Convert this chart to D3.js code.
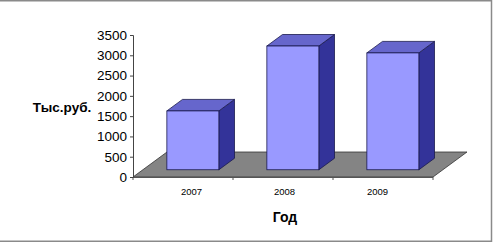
<!DOCTYPE html>
<html>
<head>
<meta charset="utf-8">
<script src="https://cdn.jsdelivr.net/npm/d3@7"></script>
<style>
  body { margin: 0; background: #fff; }
  svg { display: block; font-family: Arial, "Liberation Sans", sans-serif; }
</style>
</head>
<body>
<svg width="494" height="243"></svg>
<script>
const years = ['2007', '2008', '2009'];
const values = [1450, 3050, 2880];
const yTicks = [0, 500, 1000, 1500, 2000, 2500, 3000, 3500];

const svg = d3.select('svg');

// рамка
svg.append('rect')
    .attr('x', -2).attr('y', 0.75)
    .attr('width', 493.5).attr('height', 240.5)
    .attr('fill', 'none')
    .attr('stroke', '#8a8a8a')
    .attr('stroke-width', 1.5);

const y = d3.scaleLinear().domain([0, 3500]).range([177, 35]);
const x = d3.scaleBand().domain(years).range([133, 433])
    .paddingInner(0.48).paddingOuter(0.24);

// глубина пола и столбиков
const floorDepth = {dx: 34, dy: -25};
const f0 = 0.29, f1 = 0.75;
const off = f => [floorDepth.dx * f, floorDepth.dy * f];

// пол
const x0 = 133, x1 = 433, yb = y(0);
svg.append('polygon')
    .attr('points', [[x0, yb], [x1, yb], [x1 + floorDepth.dx, yb + floorDepth.dy], [x0 + floorDepth.dx, yb + floorDepth.dy]].join(' '))
    .attr('fill', '#848484')
    .attr('stroke', '#333')
    .attr('stroke-width', 0.8);

// деления на переднем краю пола
svg.append('g').selectAll('line')
    .data([x0, x0 + 100, x0 + 200, x1]).enter()
    .append('line')
    .attr('x1', d => d).attr('x2', d => d)
    .attr('y1', yb).attr('y2', yb + 3)
    .attr('stroke', '#555');
svg.append('line')
    .attr('x1', x0).attr('x2', x1)
    .attr('y1', yb + 0.5).attr('y2', yb + 0.5)
    .attr('stroke', '#555');

// столбики
const bars = svg.append('g').selectAll('g')
    .data(years.map((d, i) => ({year: d, value: values[i]}))).enter()
    .append('g');

bars.each(function(d) {
    const g = d3.select(this);
    const [ox0, oy0] = off(f0), [ox1, oy1] = off(f1);
    const l = x(d.year) + ox0, r = l + x.bandwidth();
    const top = y(d.value) + oy0, bot = yb + oy0;
    const ddx = ox1 - ox0, ddy = oy1 - oy0;
    // правая грань
    g.append('polygon')
        .attr('points', [[r, top], [r + ddx, top + ddy], [r + ddx, bot + ddy], [r, bot]].join(' '))
        .attr('fill', '#333399').attr('stroke', '#1a1a4d').attr('stroke-width', 0.8);
    // верх
    g.append('polygon')
        .attr('points', [[l, top], [l + ddx, top + ddy], [r + ddx, top + ddy], [r, top]].join(' '))
        .attr('fill', '#6666cc').attr('stroke', '#1a1a4d').attr('stroke-width', 0.8);
    // перед
    g.append('rect')
        .attr('x', l).attr('y', top)
        .attr('width', r - l).attr('height', bot - top)
        .attr('fill', '#9999ff').attr('stroke', '#1a1a4d').attr('stroke-width', 0.8);
});

// ось Y
const yAxis = d3.axisLeft(y).tickValues(yTicks).tickFormat(d3.format('d')).tickSize(3).tickPadding(3);
svg.append('g')
    .attr('transform', 'translate(133,0)')
    .call(yAxis)
    .call(g => g.select('.domain').attr('stroke', '#444'))
    .call(g => g.selectAll('.tick line').attr('stroke', '#444'))
    .call(g => g.selectAll('.tick text')
        .attr('font-size', 13.5)
        .attr('font-family', 'Arial, "Liberation Sans", sans-serif')
        .attr('fill', '#000'));

// подписи категорий
const labelX = d3.scalePoint().domain(years).range([191.5, 377.5]);
svg.append('g').selectAll('text')
    .data(years).enter()
    .append('text')
    .attr('x', d => labelX(d))
    .attr('y', 195)
    .attr('text-anchor', 'middle')
    .attr('font-size', 9.5)
    .text(d => d);

// названия осей
svg.append('text')
    .attr('x', 62).attr('y', 112)
    .attr('text-anchor', 'middle')
    .attr('font-size', 13.5)
    .attr('font-weight', 'bold')
    .text('Тыс.руб.');

svg.append('text')
    .attr('x', 285).attr('y', 222)
    .attr('text-anchor', 'middle')
    .attr('font-size', 14)
    .attr('font-weight', 'bold')
    .text('Год');
</script>
</body>
</html>
